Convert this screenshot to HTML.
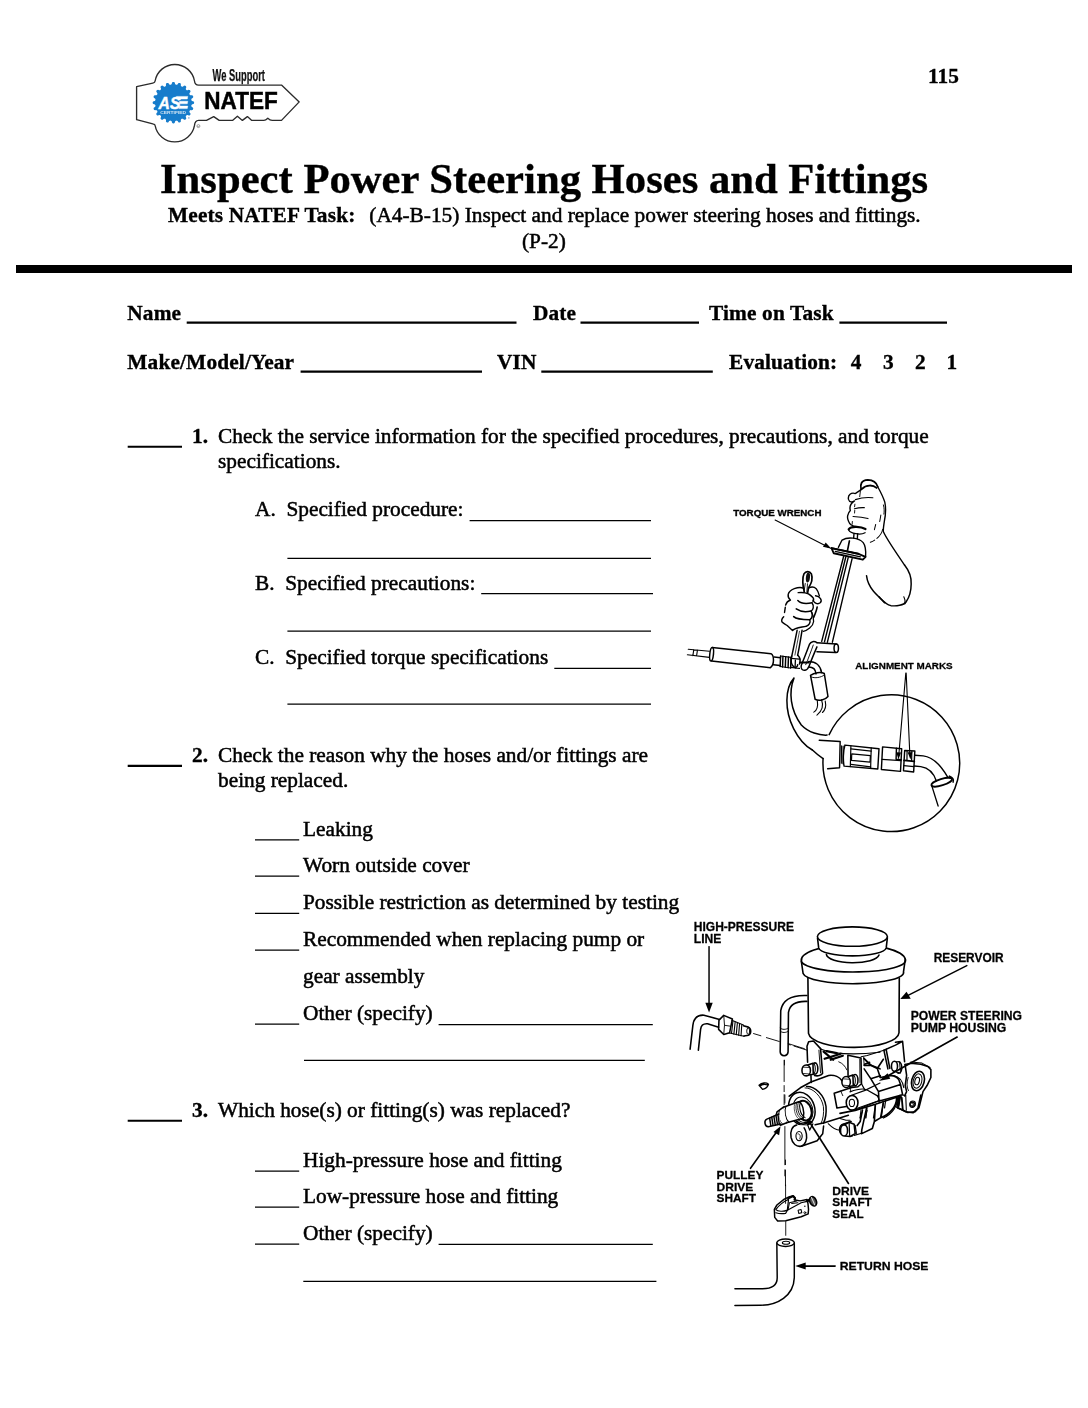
<!DOCTYPE html>
<html><head><meta charset="utf-8">
<style>
html,body{margin:0;padding:0;background:#fff;}
body{width:1088px;height:1408px;position:relative;overflow:hidden;font-family:"Liberation Serif",serif;color:#000;}
.t{position:absolute;white-space:pre;font-size:21.33px;line-height:24px;-webkit-text-stroke:0.5px #000;}
.b{font-weight:bold;-webkit-text-stroke:0.35px #000;letter-spacing:0.15px;}
.t b{-webkit-text-stroke:0.35px #000;letter-spacing:0.15px;}
.u{position:absolute;height:0;border-top:1.4px solid #000;}
.ub{position:absolute;height:0;border-top:2px solid #000;}
svg{position:absolute;left:0;top:0;}
</style></head><body>
<div id="gray" style="position:absolute;left:0;top:0;width:1088px;height:1408px;filter:grayscale(1);">
<!-- header -->
<svg id="logo" width="1088" height="1408" viewBox="0 0 1088 1408">
<path d="M136.6 86.7 L152.8 83.2 Q155 82.7 155.1 81 A20 20 0 0 1 194.5 81 Q194.8 85.1 198.6 85.1 L281.5 85.1 L299.2 101.9 L281.5 120.4 L272.2 120.4 Q270 120.4 267.8 118.2 Q265.6 120.4 263.9 120.4 L251.8 120.4 L247.4 116.6 L242.4 120.4 L237.4 116.3 L232.5 120.4 L219.2 120.4 L213.7 116.6 L206.5 120.4 L198.6 120.3 Q194.9 120.4 194.5 125.4 A20 20 0 0 1 155.1 125.4 Q155 124.4 152.8 123.9 L136.6 119.7 Z" fill="#fff" stroke="#2b2b2b" stroke-width="1.35" stroke-linejoin="round"/>
<!--GEAR-->


<circle cx="198.4" cy="126.1" r="1.5" fill="none" stroke="#777" stroke-width="0.7"/>
<text x="197.6" y="127" font-family="Liberation Sans, sans-serif" font-size="2.4" font-weight="bold" fill="#777">R</text>
<text x="212.6" y="81" font-family="Liberation Sans, sans-serif" font-weight="bold" font-size="16.2" textLength="52.4" lengthAdjust="spacingAndGlyphs" fill="#111" stroke="#111" stroke-width="0.25">We Support</text>
<text x="204.3" y="109.3" font-family="Liberation Sans, sans-serif" font-weight="bold" font-size="23.4" textLength="73.4" lengthAdjust="spacingAndGlyphs" fill="#000" stroke="#000" stroke-width="0.5">NATEF</text>
</svg>


<div class="t b" style="left:928px;top:64px;letter-spacing:0;">115</div>
<div class="t b" id="title" style="letter-spacing:0;left:160px;top:155px;font-size:42.67px;line-height:48px;">Inspect Power Steering Hoses and Fittings</div>
<div class="t b" id="meets" style="left:168px;top:203px;">Meets NATEF Task:</div>
<div class="t" id="meets2" style="left:369.3px;top:203px;">(A4-B-15) Inspect and replace power steering hoses and fittings.</div>
<div class="t" id="p2" style="left:522px;top:229px;">(P-2)</div>
<div style="position:absolute;left:16px;top:265px;width:1056px;height:8px;background:#000;"></div>
<!-- form rows -->
<div class="t b" style="left:127.3px;top:301px;">Name</div>
<div class="t b" style="left:533px;top:301px;">Date</div>
<div class="t b" style="left:709px;top:301px;">Time on Task</div>
<div class="t b" style="left:127.3px;top:350px;">Make/Model/Year</div>
<div class="t b" style="left:497px;top:350px;">VIN</div>
<div class="t b" style="left:729px;top:350px;">Evaluation:</div>
<div class="t b" style="left:850.8px;top:350px;">4</div>
<div class="t b" style="left:882.9px;top:350px;">3</div>
<div class="t b" style="left:914.9px;top:350px;">2</div>
<div class="t b" style="left:946.6px;top:350px;">1</div>

<!-- Q1 -->
<div class="t b" style="left:192px;top:424px;">1.</div>
<div class="t" style="left:218px;top:424px;">Check the service information for the specified procedures, precautions, and torque</div>
<div class="t" style="left:218px;top:449px;">specifications.</div>
<div class="t" style="left:255px;top:497px;">A.  Specified procedure:</div>
<div class="t" style="left:255px;top:571px;">B.  Specified precautions:</div>
<div class="t" style="left:255px;top:645px;">C.  Specified torque specifications</div>
<!-- Q2 -->
<div class="t b" style="left:192px;top:743px;">2.</div>
<div class="t" style="left:218px;top:743px;">Check the reason why the hoses and/or fittings are</div>
<div class="t" style="left:218px;top:768px;">being replaced.</div>
<div class="t" style="left:303px;top:817px;">Leaking</div>
<div class="t" style="left:303px;top:853px;">Worn outside cover</div>
<div class="t" style="left:303px;top:890px;">Possible restriction as determined by testing</div>
<div class="t" style="left:303px;top:927px;">Recommended when replacing pump or</div>
<div class="t" style="left:303px;top:964px;">gear assembly</div>
<div class="t" style="left:303px;top:1001px;">Other (specify)</div>
<!-- Q3 -->
<div class="t b" style="left:192px;top:1098px;">3.</div>
<div class="t" style="left:218px;top:1098px;">Which hose(s) or fitting(s) was replaced?</div>
<div class="t" style="left:303px;top:1148px;">High-pressure hose and fitting</div>
<div class="t" style="left:303px;top:1184px;">Low-pressure hose and fitting</div>
<div class="t" style="left:303px;top:1221px;">Other (specify)</div>
<svg id="lines" width="1088" height="1408" viewBox="0 0 1088 1408">
<g stroke="#000" stroke-width="1.25">
<line x1="469.6" y1="520.5" x2="651" y2="520.5"/>
<line x1="287.4" y1="558.3" x2="651" y2="558.3"/>
<line x1="481.2" y1="593.6" x2="653" y2="593.6"/>
<line x1="287.4" y1="631.1" x2="651" y2="631.1"/>
<line x1="554.3" y1="668.3" x2="651" y2="668.3"/>
<line x1="287.4" y1="704.1" x2="651" y2="704.1"/>
<line x1="255" y1="839.8" x2="299.2" y2="839.8"/>
<line x1="255" y1="876.2" x2="299.2" y2="876.2"/>
<line x1="255" y1="913.3" x2="299.2" y2="913.3"/>
<line x1="255" y1="950.0" x2="299.2" y2="950.0"/>
<line x1="255" y1="1024.2" x2="299.2" y2="1024.2"/>
<line x1="438.6" y1="1024.6" x2="652.8" y2="1024.6"/>
<line x1="304" y1="1060.3" x2="644.8" y2="1060.3"/>
<line x1="255" y1="1171.0" x2="299.2" y2="1171.0"/>
<line x1="255" y1="1207.1" x2="299.2" y2="1207.1"/>
<line x1="255" y1="1244.2" x2="299.2" y2="1244.2"/>
<line x1="438.6" y1="1244.4" x2="652.8" y2="1244.4"/>
<line x1="303.3" y1="1281.3" x2="656.4" y2="1281.3"/>
</g>
<g stroke="#000" stroke-width="2.1">
<line x1="186.7" y1="322.6" x2="516.5" y2="322.6"/>
<line x1="580.5" y1="322.6" x2="699" y2="322.6"/>
<line x1="839.4" y1="322.6" x2="947" y2="322.6"/>
<line x1="300.6" y1="371.6" x2="482" y2="371.6"/>
<line x1="541.3" y1="371.6" x2="712.8" y2="371.6"/>
<line x1="127.7" y1="446.7" x2="182" y2="446.7"/>
<line x1="127.7" y1="765.9" x2="182" y2="765.9"/>
<line x1="127.7" y1="1120.8" x2="182" y2="1120.8"/>
</g>
</svg>
<svg id="art" width="1088" height="1408" viewBox="0 0 1088 1408" fill="none" stroke="#000" stroke-linecap="round" stroke-linejoin="round">
<!-- diagram1 tile A: origin 720,470 zoom 5.44 -->
<g transform="translate(720,470) scale(0.18382)" stroke-width="8">
<path d="M1004,517 C1030,550 1042,585 1040,620 C1040,660 1028,695 1012,718 C1000,735 960,742 930,738 C900,730 880,705 865,690"/>
<path d="M797,575 C800,600 810,630 835,660 C850,678 870,695 895,722"/>
<path d="M1000,690 C1008,705 1010,715 1006,728" stroke-width="6"/>
<!-- arrow -->
<path d="M300,272 L585,418" stroke-width="6"/>
<path d="M606,428 L560,418 L575,395 Z" fill="#000" stroke="none"/>
<text x="72" y="250" font-family="Liberation Sans, sans-serif" font-weight="bold" font-size="53" textLength="480" lengthAdjust="spacingAndGlyphs" fill="#000" stroke="#000" stroke-width="2">TORQUE WRENCH</text>
</g>

<!-- diagram1 tile A2 (upper hand + wrench head): origin 820,470 zoom 10.88 -->
<g transform="translate(820,470) scale(0.091912)" stroke-width="15">
<!-- handle cap -->
<path d="M447,212 C435,150 450,112 520,108 C580,110 615,140 628,182" stroke-width="20"/>
<path d="M458,205 C500,160 575,158 615,195" stroke-width="20"/>
<!-- index knuckle + fingers -->
<path d="M447,212 C425,232 400,245 385,256 C340,240 300,270 310,320 C320,352 350,356 375,336 C340,360 318,400 330,440 C300,470 290,520 310,556 C320,590 360,612 400,616"/>
<path d="M385,322 C450,300 520,296 575,302 M375,422 C410,412 450,408 482,410 M360,506 C420,508 480,516 522,528" stroke-width="13"/>
<path d="M440,225 L432,290 M380,372 L376,400 M378,440 L376,468 M352,560 L350,590" stroke-width="10"/>
<!-- wrist right side and arm -->
<path d="M628,182 C660,240 690,300 705,350 C720,420 712,500 700,560 C692,610 686,650 690,672 C720,740 800,860 920,1034"/>
<path d="M690,380 C700,420 700,450 695,480" stroke-width="10"/>
<path d="M662,490 L650,560 M606,592 L592,650" stroke-width="11"/>
<path d="M682,645 C672,700 620,760 548,786" stroke-width="11" stroke-dasharray="120 30"/>
<!-- collar -->
<path d="M312,645 C340,602 450,618 495,642" stroke-width="24"/>
<path d="M312,652 C332,692 440,712 490,682" stroke-width="14"/>
<path d="M370,692 L366,740 M410,692 L406,745"/>
<!-- dome -->
<path d="M200,842 L240,762 C300,726 420,735 470,790 C500,830 500,880 496,940"/>
<path d="M320,772 L300,872" stroke-width="18"/>
<!-- plate -->
<path d="M125,850 L150,906 L466,976 L496,945 L418,912 Z" stroke-width="20" fill="#fff"/>
<path d="M125,850 L418,912" stroke-width="22"/>
<path d="M165,885 L440,945" stroke-width="12"/>
</g>

<!-- diagram1 tile B: origin 680,600 zoom 5.44 -->
<g transform="translate(680,600) scale(0.18382)" stroke-width="8.2">
<!-- small wrench handle + jaw -->
<path d="M637,165 C628,210 618,260 608,305 M664,165 C656,215 648,265 640,300" stroke-width="8"/>
<path d="M650,170 L625,300" stroke-width="4"/>
<path d="M608,305 C602,330 606,355 622,365 C632,370 640,362 640,352 M640,300 C652,310 656,330 650,348" stroke-width="8"/>
<!-- torque wrench beams -->
<!-- T head cylinder -->
<path d="M745,232 L850,240 M745,282 L846,286"/>
<ellipse cx="850" cy="263" rx="12" ry="23"/>
<path d="M745,232 C730,222 712,225 705,240 C690,280 675,320 660,355 C655,372 665,385 680,382 C692,380 698,370 702,360 C715,325 730,290 745,255" stroke-width="8"/>
<path d="M725,245 C712,280 698,320 684,352" stroke-width="5"/>
<!-- left hose -->
<path d="M45,268 L160,279 M40,298 L160,312 M75,270 L70,303 M95,272 L90,305" stroke-width="6"/>
<path d="M175,258 L495,292 C512,300 515,350 492,368 L172,332"/>
<ellipse cx="172" cy="295" rx="10" ry="37" transform="rotate(6 172 295)"/>
<path d="M512,310 L547,314 M508,352 L545,356"/>
<path d="M547,305 L545,362 M560,306 L558,364 M575,308 L573,366 M590,310 L588,368 M604,312 L602,370" stroke-width="8"/>
<path d="M547,305 L604,312 M545,362 L602,370" stroke-width="6"/>
<path d="M604,318 L650,322 M602,366 L650,372 M628,320 L626,370" stroke-width="7"/>
<path d="M655,340 L700,340" stroke-width="10"/>
<!-- elbow pipe + sleeve -->
<path d="M700,335 C740,335 765,360 770,395 M700,365 C725,365 738,380 740,402"/>
<path d="M710,410 C730,395 765,390 785,400 L805,525 C790,545 755,550 735,540 Z"/>
<path d="M712,418 C735,428 765,422 786,408" stroke-width="5"/>
<path d="M747,547 C752,580 745,600 728,610 M770,543 C782,575 772,605 745,626 M790,550 C797,580 788,600 775,612" stroke-width="6"/>
<!-- swoosh -->
<path d="M620,425 C570,480 568,600 618,700 C648,760 690,800 720,816 M620,425 C590,500 600,600 660,680 C700,722 760,737 800,735"/>
</g>

<!-- diagram1 tile C: origin 790,640 zoom 5.44 -->
<g transform="translate(790,640) scale(0.18382)" stroke-width="8">
<path d="M213,515 A372,372 0 1 1 180,645"/>
<path d="M122,598 C140,615 160,632 180,645"/>
<!-- arrows -->
<path d="M630,180 L592,625 M632,180 L652,625" stroke-width="6"/>
<path d="M590,650 L578,610 L604,612 Z M655,650 L640,610 L666,610 Z" fill="#000" stroke="none"/>
<text x="355" y="158" font-family="Liberation Sans, sans-serif" font-weight="bold" font-size="53" textLength="530" lengthAdjust="spacingAndGlyphs" fill="#000" stroke="#000" stroke-width="1.5">ALIGNMENT MARKS</text>
</g>

<!-- diagram1 tile C2 (fitting in circle): origin 830,720 zoom 8.369 -->
<g transform="translate(830,720) scale(0.11949)" stroke-width="12">
<path d="M-90,170 L85,180 L80,400 L-20,408"/>
<path d="M97,215 L95,362 M110,218 L108,366" stroke-width="9"/>
<path d="M125,210 L410,240 L400,410 L118,386 C108,340 110,260 125,210 Z"/>
<path d="M175,216 L170,390 M345,234 L340,404" stroke-width="10"/>
<path d="M175,242 L345,260 M182,283 L338,298 L335,352 L180,338 Z M175,372 L340,392" stroke-width="10"/>
<path d="M440,225 L600,240 L590,430 L430,415 Z"/>
<path d="M436,330 L594,340" stroke-width="11"/>
<path d="M556,236 L553,328 L596,332" stroke-width="12"/>
<path d="M625,255 L710,260 L700,435 L615,425 Z"/>
<path d="M620,338 L705,346" stroke-width="16"/>
<path d="M618,382 L702,390" stroke-width="10"/>
<path d="M645,258 L644,335 M685,262 L683,340" stroke-width="10"/>
<path d="M710,295 L780,300 C870,310 940,400 985,478 M705,385 L760,390 C830,400 870,450 890,510"/>
<ellipse cx="935" cy="520" rx="90" ry="27" transform="rotate(-17 935 520)" stroke-width="15"/>
<path d="M1000,470 C1025,480 1040,500 1030,520" stroke-width="13"/>
<path d="M850,545 L905,720" stroke-width="11"/>
</g>

<!-- diagram1 tile H (lower fist): origin 775,570 zoom 15.54 -->
<g transform="translate(775,570) scale(0.06435)" stroke-width="22">
<!-- wrench ring -->
<path d="M455,340 C430,250 420,120 450,60 C480,10 540,15 565,60 C590,130 560,220 520,280 L508,352" stroke-width="26"/>
<ellipse cx="512" cy="115" rx="32" ry="78" fill="#111" stroke="none" transform="rotate(6 512 115)"/>
<path d="M470,210 L452,335 M505,215 L495,345" stroke-width="14"/>
<!-- fist outline -->
<path d="M440,282 C400,262 340,275 300,290 C260,305 215,335 205,380 C200,410 210,445 240,466 C200,480 175,510 165,545"/>
<path d="M160,580 L148,660 M135,725 C110,750 95,780 110,810 C140,840 170,845 185,860 L272,940 C290,915 320,905 420,885 L482,876" />
<!-- right side knuckles -->
<path d="M520,280 C560,262 610,262 640,290 C665,320 680,365 690,402"/>
<path d="M630,400 C700,410 742,470 702,510 C662,542 612,512 590,470"/>
<path d="M360,352 C420,345 480,352 520,372 C560,400 595,430 600,448 C602,465 598,478 590,488"/>
<path d="M580,520 C612,560 592,620 560,640 C590,690 582,750 540,772 C560,820 522,860 482,876"/>
<!-- creases -->
<path d="M355,475 C400,522 500,527 577,510 M330,605 C400,652 500,652 560,636 M290,725 C340,772 450,772 545,773" stroke-width="24"/>
<!-- heel/thumb lines -->
<path d="M655,575 C650,620 625,680 602,735" stroke-width="26"/>
<path d="M570,652 C590,690 600,750 600,800 C592,880 500,940 440,952" stroke-width="20"/>
<!-- wrench handle below fist -->
</g>

<!-- torque wrench beams, page coords -->
<g stroke-width="1.4">
<path d="M843.6,556.5 L821.7,641.4 M845.8,557 L824.5,641.8 M848.2,557.6 L827.4,642.2 M852.1,558.6 L832.4,642.2"/>
</g>

<!-- diagram2 reservoir in page coords -->
<g stroke-width="1.6">
<!-- body -->
<path d="M807.9,977 L808.5,1033.3 A45.3,15 0 0 0 899,1032.7 L899.3,978" fill="#fff"/>
<!-- lid -->
<path d="M801.4,961.6 L803.1,973.5 A50.2,11 0 0 0 903.5,971.8 L905.3,959.2 A52,15.8 0 0 0 801.4,961.6 Z" fill="#fff"/>
<path d="M801.4,961.6 A52,11.5 0 0 0 905.3,959.2"/>
<!-- neck -->
<path d="M826.4,954.4 A26.4,8.8 0 0 0 879,955" fill="#fff"/>
<!-- cap -->
<path d="M817.5,938 L818.7,947.9 A33.8,8.4 0 0 0 886.2,947.9 L887.4,937.7 Z" fill="#fff"/>
<ellipse cx="852.4" cy="936.6" rx="35" ry="9.7" fill="#fff"/>
</g>
<!-- diagram2 tile D: origin 680,915 zoom 5.44 -->
<g transform="translate(680,915) scale(0.18382)" stroke-width="8.5">
<text x="75" y="85" font-family="Liberation Sans, sans-serif" font-weight="bold" font-size="65.6" textLength="545" lengthAdjust="spacingAndGlyphs" fill="#000" stroke="#000" stroke-width="1.5">HIGH-PRESSURE</text>
<text x="75" y="155" font-family="Liberation Sans, sans-serif" font-weight="bold" font-size="65.6" textLength="150" lengthAdjust="spacingAndGlyphs" fill="#000" stroke="#000" stroke-width="1.5">LINE</text>
<path d="M158,172 L158,490" stroke-width="8"/>
<path d="M158,530 L138,478 L178,478 Z" fill="#000" stroke="none"/>
<!-- HP tube -->
<path d="M55,730 L70,600 C75,560 95,543 130,545 L215,568 M100,735 L112,622 C115,598 125,590 150,592 L210,610"/>
<!-- hex nut -->
<path d="M212,572 L238,546 L285,566 L270,640 L238,650 L210,622 Z"/>
<path d="M238,546 L242,600 L238,650 M242,600 L275,605" stroke-width="5"/>
<!-- threads -->
<path d="M282,572 L345,598 M270,642 L348,660" stroke-width="6"/>
<path d="M288,578 L280,645 M300,583 L293,648 M312,588 L306,651 M324,592 L319,654 M336,597 L332,657" stroke-width="6"/>
<path d="M345,603 L372,610 C390,618 388,648 372,654 L348,658" />
<ellipse cx="371" cy="632" rx="8" ry="17" stroke-width="5"/>
<!-- dash-dot -->
<path d="M400,645 L440,657 M470,667 L540,688 M570,697 L600,707 M620,713 L690,735" stroke-width="5"/>
<!-- J tube -->
<path d="M690,438 C620,435 560,450 548,520 L545,745 C548,772 585,772 588,745 L590,530 C598,480 640,468 690,470" fill="#fff"/>
<path d="M545,615 C555,625 578,625 588,615 M545,632 C555,642 578,642 588,632" stroke-width="5"/>
<path d="M568,790 L568,816" stroke-width="5"/>
</g>
<!-- diagram2 tile E: origin 840,915 zoom 5.44 -->
<g transform="translate(840,915) scale(0.18382)" stroke-width="8.5">
<text x="510" y="255" font-family="Liberation Sans, sans-serif" font-weight="bold" font-size="65.6" textLength="380" lengthAdjust="spacingAndGlyphs" fill="#000" stroke="#000" stroke-width="1.5">RESERVOIR</text>
<path d="M690,275 L365,440" stroke-width="8"/>
<path d="M328,457 L362,418 L385,455 Z" fill="#000" stroke="none"/>
<text x="385" y="572" font-family="Liberation Sans, sans-serif" font-weight="bold" font-size="65.6" textLength="605" lengthAdjust="spacingAndGlyphs" fill="#000" stroke="#000" stroke-width="1.5">POWER STEERING</text>
<text x="385" y="637" font-family="Liberation Sans, sans-serif" font-weight="bold" font-size="65.6" textLength="520" lengthAdjust="spacingAndGlyphs" fill="#000" stroke="#000" stroke-width="1.5">PUMP HOUSING</text>
</g>

<!-- diagram2 tile F1: origin 770,1035 zoom 9.891 -->
<g transform="translate(770,1035) scale(0.10110)" stroke-width="15.5">
<!-- J-tube bottom handled in tile D -->
<path d="M140,250 L140,460 M140,500 L140,560 M140,590 L140,690" stroke-width="9"/>
<path d="M180,85 L340,135" stroke-width="9"/>
<!-- left upright -->
<path d="M500,135 L430,60 L382,66 L366,112 L372,270 M405,400 L408,470"/>
<path d="M500,135 L520,380 C510,400 470,410 440,400"/>
<path d="M484,150 L500,375" stroke-width="9"/>
<!-- saddle arc under reservoir -->
<path d="M505,140 C620,185 820,200 1088,170" stroke-width="11"/>
<!-- X bracing -->
<path d="M530,165 L625,245 M540,235 L700,185 M600,245 L720,205 M560,160 L660,180" stroke-width="22"/>
<path d="M680,265 C720,280 745,310 760,345" stroke-width="9"/>
<!-- middle upright -->
<path d="M770,200 L772,400 M770,200 L900,228 L905,482 L870,512 L790,522"/>
<path d="M888,238 L890,470" stroke-width="9"/>
<path d="M930,235 L1000,300 L1088,335 M935,290 L985,270" stroke-width="16"/>
<!-- bolt 1 -->
<ellipse cx="445" cy="332" rx="28" ry="56" fill="#fff"/>
<ellipse cx="422" cy="335" rx="26" ry="52" fill="#fff" stroke-width="10"/>
<path d="M360,302 L425,280 L428,388 L372,398 Z" fill="#fff"/>
<ellipse cx="358" cy="350" rx="42" ry="54" fill="#fff"/>
<path d="M330,318 L395,322 M325,380 L392,386" stroke-width="8"/>
<!-- bolt 2 -->
<ellipse cx="842" cy="447" rx="28" ry="56" fill="#fff"/>
<ellipse cx="818" cy="450" rx="26" ry="52" fill="#fff" stroke-width="10"/>
<path d="M755,417 L820,396 L824,502 L767,512 Z" fill="#fff"/>
<ellipse cx="753" cy="465" rx="42" ry="54" fill="#fff"/>
<path d="M725,434 L790,438 M720,496 L787,502" stroke-width="8"/>
<!-- nose cylinder top edge -->
<path d="M190,605 L300,522 L405,465 L580,400 C640,393 690,420 712,452"/>
<!-- boss block -->
<path d="M635,577 L800,522 M635,577 L662,722 L770,705"/>
<path d="M700,555 L720,600 M790,522 L800,560" stroke-width="9"/>
<ellipse cx="812" cy="670" rx="58" ry="72" fill="#fff"/>
<ellipse cx="810" cy="672" rx="26" ry="36" stroke-width="10"/>
<path d="M905,482 L940,548 L1088,475 M850,730 L1088,645 M800,598 L940,548" stroke-width="12"/>
<path d="M1060,600 C1075,620 1082,640 1080,670" stroke-width="10"/>
<path d="M900,740 L890,821 M960,720 L950,821" stroke-width="10"/>
</g>

<!-- diagram2 tile F2: origin 850,1035 zoom 9.891 -->
<g transform="translate(850,1035) scale(0.10110)" stroke-width="15.5">
<!-- right upright -->
<path d="M450,72 L520,62 L540,265 M335,150 L375,335 M357,140 L394,330 M335,150 L450,100 L520,62" />
<path d="M110,215 L170,202 L335,150" stroke-width="11"/>
<path d="M135,220 L140,300" stroke-width="9"/>
<!-- V brace -->
<path d="M140,232 L205,300 L270,332 L330,240 M270,332 L300,420 M140,300 L205,300" stroke-width="16"/>
<!-- housing block -->
<path d="M140,335 L205,432 L300,402 M205,432 L282,560 L286,645 M282,560 L500,490 L520,590 L290,652 M500,490 L482,440 C460,410 430,400 400,402 L300,420"/>
<path d="M430,400 C485,410 522,460 532,520 M520,590 L542,602" stroke-width="11"/>
<!-- lower housing -->
<path d="M0,562 C60,540 120,522 165,542 L272,602 M0,752 L80,732 L286,652 M330,660 L312,800 M250,700 L232,821 M470,620 C470,700 420,780 330,821 M352,650 L342,720" stroke-width="12"/>
<path d="M120,760 L100,821 M170,745 L150,821" stroke-width="10"/>
<!-- bolt 3 -->
<ellipse cx="482" cy="322" rx="30" ry="56" fill="#fff"/>
<path d="M440,262 L490,268 L500,375 L445,360 Z" fill="#fff" stroke-width="10"/>
<ellipse cx="440" cy="310" rx="30" ry="50" fill="#fff"/>
<!-- rear flange -->
<path d="M545,292 L600,280 L700,290 L770,312 L800,342 L800,420 L762,500 L722,560 L702,640 L682,720 L642,760 L572,766 L522,742 L472,722" fill="none"/>
<path d="M600,268 L712,278 L792,322" stroke-width="10"/>
<path d="M545,292 L560,400 L546,500 L560,560 L540,602" />
<path d="M575,420 C560,470 560,520 578,550" stroke-width="9"/>
<ellipse cx="672" cy="455" rx="62" ry="98" transform="rotate(14 672 455)"/>
<ellipse cx="668" cy="455" rx="42" ry="72" transform="rotate(14 668 455)" stroke-width="10"/>
<ellipse cx="664" cy="455" rx="22" ry="38" transform="rotate(14 664 455)" stroke-width="11"/>
<circle cx="616" cy="690" r="26" stroke-width="10"/>
<path d="M610,675 C625,672 632,690 622,702" stroke-width="8"/>
<path d="M492,600 L476,716 M512,622 L522,736 M492,600 L512,622" stroke-width="18"/>
<!-- arrow PSPH -->
<path d="M1060,20 L345,420" stroke-width="16"/>
<path d="M285,455 L372,378 L398,432 Z" fill="#000" stroke="none"/>
</g>

<!-- diagram2 tile F3: origin 750,1095 zoom 9.891 -->
<g transform="translate(750,1095) scale(0.10110)" stroke-width="16">
<!-- vertical dash-dot -->
<path d="M345,0 L345,80 M345,312 L345,690 M345,740 L345,800" stroke-width="9"/>
<!-- bolt 4 (left part) -->
<ellipse cx="922" cy="342" rx="36" ry="52" fill="#fff"/>
<path d="M922,290 L1000,262 M932,394 L1010,405" />
</g>

<!-- diagram2 tile F4: origin 840,1095 zoom 9.891 -->
<g transform="translate(840,1095) scale(0.10110)" stroke-width="16">
<path d="M0,182 L150,152 L350,92 L590,12 M222,150 L200,262 L170,302 M262,132 L216,342 L212,382 M350,92 L340,262 L320,332 L215,382 M432,62 L402,222 M560,32 C560,120 480,200 400,226 L340,262"/>
<path d="M0,232 L60,250 L100,250" stroke-width="11"/>
<!-- bolt 4 hex -->
<path d="M40,296 L90,270 L140,290 L150,382 L100,410 L50,406" fill="#fff"/>
<path d="M90,270 L96,410 M150,300 L162,380 M140,400 L215,378" stroke-width="12"/>
<ellipse cx="40" cy="350" rx="35" ry="55" fill="#fff"/>
<!-- flange bottom -->
<path d="M582,20 L562,122 L650,166 L722,176 L770,132 L800,0"/>
<path d="M602,0 L582,112 M650,0 L656,150" stroke-width="11"/>
<circle cx="720" cy="86" r="26" stroke-width="11"/>
<path d="M712,70 C730,68 738,88 726,102" stroke-width="9"/>
</g>

<!-- diagram2 tile G: origin 700,1160 zoom 5.44 -->
<g transform="translate(700,1160) scale(0.18382)" stroke-width="8">
<g font-family="Liberation Sans, sans-serif" font-weight="bold" font-size="63" fill="#000" stroke="#000" stroke-width="1.5">
<text x="90" y="103" textLength="255" lengthAdjust="spacingAndGlyphs">PULLEY</text>
<text x="90" y="167" textLength="200" lengthAdjust="spacingAndGlyphs">DRIVE</text>
<text x="90" y="230" textLength="215" lengthAdjust="spacingAndGlyphs">SHAFT</text>
<text x="720" y="188" textLength="200" lengthAdjust="spacingAndGlyphs">DRIVE</text>
<text x="720" y="252" textLength="215" lengthAdjust="spacingAndGlyphs">SHAFT</text>
<text x="720" y="315" textLength="170" lengthAdjust="spacingAndGlyphs">SEAL</text>
<text x="760" y="598" textLength="483" lengthAdjust="spacingAndGlyphs">RETURN HOSE</text>
</g>
<path d="M465,0 L465,25 M465,55 L465,140" stroke-width="5"/>
<!-- return hose -->
<path d="M418,452 L420,640 C420,690 380,700 340,700 L190,700 M513,452 L513,640 C510,740 420,790 330,790 L190,792"/>
<ellipse cx="465.5" cy="450" rx="47.5" ry="20" fill="#fff"/>
<ellipse cx="468" cy="450" rx="20" ry="8" stroke-width="6"/>
<path d="M735,577 L560,577" stroke-width="9"/>
<path d="M518,577 L575,558 L575,596 Z" fill="#000" stroke="none"/>
</g>

<!-- diagram2 tile K (clamp): origin 760,1185 zoom 13.6 -->
<g transform="translate(760,1185) scale(0.073529)" stroke-width="20">
<path d="M195,330 L230,272 L330,192 L400,160 L450,150 L475,176 L480,205 L545,216 L640,196 L652,250 L660,330 L655,392 L560,432 L350,486 L240,490 L200,440 Z" fill="#fff"/>
<path d="M385,182 L450,150 L475,176 L470,200" stroke-width="30"/>
<path d="M215,335 C250,282 330,216 388,196 L372,342 C320,366 240,360 215,335 Z" stroke-width="16"/>
<path d="M215,378 C260,392 310,392 350,385 L372,342 L560,242 L640,222" stroke-width="16"/>
<path d="M400,242 L500,216 M400,242 L382,335 M430,252 L515,240" stroke-width="14"/>
<rect x="522" y="338" width="42" height="44" stroke-width="14" transform="rotate(-12 543 360)"/>
<circle cx="610" cy="376" r="13" stroke-width="12"/>
<circle cx="610" cy="290" r="10" fill="#000" stroke="none"/>
<path d="M640,218 L672,204" stroke-width="34"/>
<ellipse cx="722" cy="222" rx="44" ry="66" transform="rotate(-24 722 222)" fill="#555" stroke-width="22"/>
<path d="M700,170 L745,270" stroke="#ddd" stroke-width="14"/>
<!-- vertical line -->
<path d="M348,0 L348,250 M350,497 L350,685" stroke-width="12"/>
</g>

<!-- diagram2 tile N (nose): origin 760,1075 zoom 10.88 -->
<g transform="translate(760,1075) scale(0.091912)" stroke-width="16.5">
<!-- ring 2 (back of nose flange) double -->
<path d="M507,124 C600,120 700,220 718,340 C725,420 712,480 690,527"/>
<path d="M490,140 C580,138 672,235 690,345 C697,420 686,480 664,528" stroke-width="10"/>
<!-- outer front ring -->
<ellipse cx="455" cy="370" rx="140" ry="185" transform="rotate(-17 455 370)" fill="#fff"/>
<ellipse cx="468" cy="378" rx="105" ry="142" transform="rotate(-17 468 378)" stroke-width="11"/>
<ellipse cx="482" cy="388" rx="78" ry="110" transform="rotate(-17 482 388)" stroke-width="24"/>
<!-- shaft big section (white fill to occlude rings) -->
<path d="M255,350 L420,292 C460,300 490,400 470,470 L290,520 C250,490 235,400 255,350 Z" fill="#fff"/>
<path d="M420,292 C398,330 408,440 470,470" stroke-width="10"/>
<path d="M400,300 C380,340 390,440 448,476" stroke-width="9"/>
<path d="M440,292 C422,335 432,430 490,464" stroke-width="12"/>
<path d="M380,306 C362,345 372,445 425,482" stroke-width="7"/>
<path d="M282,342 C262,392 275,480 315,512" stroke-width="11"/>
<!-- collar cone -->
<path d="M255,350 L185,402 C165,440 180,520 222,546 L290,520" fill="#fff"/>
<path d="M212,388 C192,430 206,505 246,535" stroke-width="10"/>
<!-- threaded end -->
<path d="M205,425 L75,480 C40,495 50,560 90,562 L225,532" fill="#fff"/>
<path d="M105,470 L118,552 M128,460 L142,548 M151,450 L166,543 M174,441 L190,538 M195,432 L210,534" stroke-width="16"/>
<!-- dark seal lip under shaft -->
<path d="M400,505 C440,545 500,545 532,500" stroke-width="20"/>
<!-- lower ear -->
<path d="M400,545 C350,555 325,610 338,680 C352,745 395,785 450,775 L622,715 L682,640 L692,555" fill="#fff"/>
<path d="M450,775 C495,760 515,700 505,640 C500,610 490,590 480,575"/>
<ellipse cx="425" cy="665" rx="34" ry="50" stroke-width="12"/>
<path d="M412,640 C436,636 446,668 432,695" stroke-width="9"/>
<path d="M510,520 L540,600 L575,532" stroke-width="13"/>
<!-- nose bottom edge -->
<path d="M600,542 L700,520 L962,438"/>
<path d="M742,530 C790,580 830,602 872,602" stroke-width="11"/>
<!-- woodruff key -->
<path d="M-10,112 C20,80 70,80 92,100 C86,130 60,150 28,156 Z M0,118 C25,100 55,98 80,108" stroke-width="15"/>
</g>

<g transform="translate(750,1095) scale(0.10110)" stroke-width="14">
<!-- arrow pulley drive shaft -->
<path d="M5,725 L268,358" stroke-width="16"/>
<path d="M302,308 L232,366 L288,398 Z" fill="#000" stroke="none"/>
<!-- arrow drive shaft seal -->
<path d="M974,875 L585,262" stroke-width="16"/>
<path d="M568,236 L575,300 L625,270 Z" fill="#000" stroke="none"/>
</g>

</svg>
</div>
<svg id="logoc" width="1088" height="1408" viewBox="0 0 1088 1408" style="z-index:5">
<path d="M194.15 102.70 L194.14 102.52 L194.11 102.34 L194.05 102.16 L193.98 101.98 L193.87 101.81 L193.74 101.63 L193.57 101.47 L193.34 101.31 L192.79 101.17 L192.24 101.05 L192.00 100.91 L191.83 100.76 L191.69 100.62 L191.58 100.47 L191.48 100.32 L191.41 100.17 L191.36 100.02 L191.33 99.86 L191.31 99.70 L191.31 99.54 L191.33 99.38 L191.38 99.21 L191.44 99.03 L191.53 98.85 L191.65 98.65 L191.82 98.45 L192.31 98.16 L192.80 97.86 L192.97 97.64 L193.08 97.43 L193.15 97.22 L193.19 97.03 L193.21 96.83 L193.21 96.64 L193.18 96.46 L193.13 96.29 L193.07 96.12 L192.98 95.96 L192.87 95.80 L192.75 95.66 L192.59 95.52 L192.42 95.40 L192.20 95.29 L191.94 95.21 L191.37 95.26 L190.81 95.31 L190.54 95.25 L190.33 95.16 L190.15 95.07 L190.00 94.96 L189.86 94.85 L189.75 94.73 L189.65 94.60 L189.57 94.46 L189.51 94.31 L189.46 94.16 L189.43 94.00 L189.42 93.82 L189.42 93.64 L189.45 93.43 L189.50 93.21 L189.61 92.96 L189.98 92.54 L190.35 92.11 L190.45 91.84 L190.48 91.61 L190.49 91.39 L190.47 91.19 L190.43 91.00 L190.36 90.82 L190.28 90.66 L190.19 90.50 L190.07 90.36 L189.94 90.24 L189.79 90.12 L189.62 90.02 L189.44 89.94 L189.23 89.88 L188.99 89.84 L188.71 89.85 L188.19 90.07 L187.67 90.30 L187.40 90.32 L187.17 90.30 L186.97 90.26 L186.79 90.21 L186.63 90.14 L186.48 90.06 L186.35 89.97 L186.23 89.87 L186.13 89.75 L186.04 89.62 L185.96 89.47 L185.89 89.31 L185.84 89.13 L185.80 88.93 L185.78 88.70 L185.80 88.43 L186.03 87.91 L186.25 87.39 L186.26 87.11 L186.22 86.87 L186.16 86.66 L186.08 86.48 L185.98 86.31 L185.86 86.16 L185.74 86.03 L185.60 85.91 L185.44 85.82 L185.28 85.74 L185.10 85.67 L184.91 85.63 L184.71 85.61 L184.49 85.62 L184.26 85.65 L183.99 85.75 L183.56 86.12 L183.14 86.49 L182.89 86.60 L182.67 86.65 L182.46 86.68 L182.28 86.68 L182.10 86.67 L181.94 86.64 L181.79 86.59 L181.64 86.53 L181.50 86.45 L181.37 86.35 L181.25 86.24 L181.14 86.10 L181.03 85.95 L180.94 85.77 L180.85 85.56 L180.79 85.29 L180.84 84.73 L180.89 84.16 L180.81 83.90 L180.70 83.68 L180.58 83.51 L180.44 83.35 L180.30 83.23 L180.14 83.12 L179.98 83.03 L179.81 82.97 L179.64 82.92 L179.46 82.89 L179.27 82.89 L179.07 82.91 L178.88 82.95 L178.67 83.02 L178.46 83.13 L178.24 83.30 L177.94 83.79 L177.65 84.28 L177.45 84.45 L177.25 84.57 L177.07 84.66 L176.89 84.72 L176.72 84.77 L176.56 84.79 L176.40 84.79 L176.24 84.77 L176.08 84.74 L175.93 84.69 L175.78 84.62 L175.63 84.52 L175.48 84.41 L175.34 84.27 L175.19 84.10 L175.05 83.86 L174.93 83.31 L174.79 82.76 L174.63 82.53 L174.47 82.36 L174.29 82.23 L174.12 82.12 L173.94 82.05 L173.76 81.99 L173.58 81.96 L173.40 81.95 L173.22 81.96 L173.04 81.99 L172.86 82.05 L172.68 82.12 L172.51 82.23 L172.33 82.36 L172.17 82.53 L172.01 82.76 L171.87 83.31 L171.75 83.86 L171.61 84.10 L171.46 84.27 L171.32 84.41 L171.17 84.52 L171.02 84.62 L170.87 84.69 L170.72 84.74 L170.56 84.77 L170.40 84.79 L170.24 84.79 L170.08 84.77 L169.91 84.72 L169.73 84.66 L169.55 84.57 L169.35 84.45 L169.15 84.28 L168.86 83.79 L168.56 83.30 L168.34 83.13 L168.13 83.02 L167.92 82.95 L167.73 82.91 L167.53 82.89 L167.34 82.89 L167.16 82.92 L166.99 82.97 L166.82 83.03 L166.66 83.12 L166.50 83.23 L166.36 83.35 L166.22 83.51 L166.10 83.68 L165.99 83.90 L165.91 84.16 L165.96 84.73 L166.01 85.29 L165.95 85.56 L165.86 85.77 L165.77 85.95 L165.66 86.10 L165.55 86.24 L165.43 86.35 L165.30 86.45 L165.16 86.53 L165.01 86.59 L164.86 86.64 L164.70 86.67 L164.52 86.68 L164.34 86.68 L164.13 86.65 L163.91 86.60 L163.66 86.49 L163.24 86.12 L162.81 85.75 L162.54 85.65 L162.31 85.62 L162.09 85.61 L161.89 85.63 L161.70 85.67 L161.52 85.74 L161.36 85.82 L161.20 85.91 L161.06 86.03 L160.94 86.16 L160.82 86.31 L160.72 86.48 L160.64 86.66 L160.58 86.87 L160.54 87.11 L160.55 87.39 L160.77 87.91 L161.00 88.43 L161.02 88.70 L161.00 88.93 L160.96 89.13 L160.91 89.31 L160.84 89.47 L160.76 89.62 L160.67 89.75 L160.57 89.87 L160.45 89.97 L160.32 90.06 L160.17 90.14 L160.01 90.21 L159.83 90.26 L159.63 90.30 L159.40 90.32 L159.13 90.30 L158.61 90.07 L158.09 89.85 L157.81 89.84 L157.57 89.88 L157.36 89.94 L157.18 90.02 L157.01 90.12 L156.86 90.24 L156.73 90.36 L156.61 90.50 L156.52 90.66 L156.44 90.82 L156.37 91.00 L156.33 91.19 L156.31 91.39 L156.32 91.61 L156.35 91.84 L156.45 92.11 L156.82 92.54 L157.19 92.96 L157.30 93.21 L157.35 93.43 L157.38 93.64 L157.38 93.82 L157.37 94.00 L157.34 94.16 L157.29 94.31 L157.23 94.46 L157.15 94.60 L157.05 94.73 L156.94 94.85 L156.80 94.96 L156.65 95.07 L156.47 95.16 L156.26 95.25 L155.99 95.31 L155.43 95.26 L154.86 95.21 L154.60 95.29 L154.38 95.40 L154.21 95.52 L154.05 95.66 L153.93 95.80 L153.82 95.96 L153.73 96.12 L153.67 96.29 L153.62 96.46 L153.59 96.64 L153.59 96.83 L153.61 97.03 L153.65 97.22 L153.72 97.43 L153.83 97.64 L154.00 97.86 L154.49 98.16 L154.98 98.45 L155.15 98.65 L155.27 98.85 L155.36 99.03 L155.42 99.21 L155.47 99.38 L155.49 99.54 L155.49 99.70 L155.47 99.86 L155.44 100.02 L155.39 100.17 L155.32 100.32 L155.22 100.47 L155.11 100.62 L154.97 100.76 L154.80 100.91 L154.56 101.05 L154.01 101.17 L153.46 101.31 L153.23 101.47 L153.06 101.63 L152.93 101.81 L152.82 101.98 L152.75 102.16 L152.69 102.34 L152.66 102.52 L152.65 102.70 L152.66 102.88 L152.69 103.06 L152.75 103.24 L152.82 103.42 L152.93 103.59 L153.06 103.77 L153.23 103.93 L153.46 104.09 L154.01 104.23 L154.56 104.35 L154.80 104.49 L154.97 104.64 L155.11 104.78 L155.22 104.93 L155.32 105.08 L155.39 105.23 L155.44 105.38 L155.47 105.54 L155.49 105.70 L155.49 105.86 L155.47 106.02 L155.42 106.19 L155.36 106.37 L155.27 106.55 L155.15 106.75 L154.98 106.95 L154.49 107.24 L154.00 107.54 L153.83 107.76 L153.72 107.97 L153.65 108.18 L153.61 108.37 L153.59 108.57 L153.59 108.76 L153.62 108.94 L153.67 109.11 L153.73 109.28 L153.82 109.44 L153.93 109.60 L154.05 109.74 L154.21 109.88 L154.38 110.00 L154.60 110.11 L154.86 110.19 L155.43 110.14 L155.99 110.09 L156.26 110.15 L156.47 110.24 L156.65 110.33 L156.80 110.44 L156.94 110.55 L157.05 110.67 L157.15 110.80 L157.23 110.94 L157.29 111.09 L157.34 111.24 L157.37 111.40 L157.38 111.58 L157.38 111.76 L157.35 111.97 L157.30 112.19 L157.19 112.44 L156.82 112.86 L156.45 113.29 L156.35 113.56 L156.32 113.79 L156.31 114.01 L156.33 114.21 L156.37 114.40 L156.44 114.58 L156.52 114.74 L156.61 114.90 L156.73 115.04 L156.86 115.16 L157.01 115.28 L157.18 115.38 L157.36 115.46 L157.57 115.52 L157.81 115.56 L158.09 115.55 L158.61 115.33 L159.13 115.10 L159.40 115.08 L159.63 115.10 L159.83 115.14 L160.01 115.19 L160.17 115.26 L160.32 115.34 L160.45 115.43 L160.57 115.53 L160.67 115.65 L160.76 115.78 L160.84 115.93 L160.91 116.09 L160.96 116.27 L161.00 116.47 L161.02 116.70 L161.00 116.97 L160.77 117.49 L160.55 118.01 L160.54 118.29 L160.58 118.53 L160.64 118.74 L160.72 118.92 L160.82 119.09 L160.94 119.24 L161.06 119.37 L161.20 119.49 L161.36 119.58 L161.52 119.66 L161.70 119.73 L161.89 119.77 L162.09 119.79 L162.31 119.78 L162.54 119.75 L162.81 119.65 L163.24 119.28 L163.66 118.91 L163.91 118.80 L164.13 118.75 L164.34 118.72 L164.52 118.72 L164.70 118.73 L164.86 118.76 L165.01 118.81 L165.16 118.87 L165.30 118.95 L165.43 119.05 L165.55 119.16 L165.66 119.30 L165.77 119.45 L165.86 119.63 L165.95 119.84 L166.01 120.11 L165.96 120.67 L165.91 121.24 L165.99 121.50 L166.10 121.72 L166.22 121.89 L166.36 122.05 L166.50 122.17 L166.66 122.28 L166.82 122.37 L166.99 122.43 L167.16 122.48 L167.34 122.51 L167.53 122.51 L167.73 122.49 L167.92 122.45 L168.13 122.38 L168.34 122.27 L168.56 122.10 L168.86 121.61 L169.15 121.12 L169.35 120.95 L169.55 120.83 L169.73 120.74 L169.91 120.68 L170.08 120.63 L170.24 120.61 L170.40 120.61 L170.56 120.63 L170.72 120.66 L170.87 120.71 L171.02 120.78 L171.17 120.88 L171.32 120.99 L171.46 121.13 L171.61 121.30 L171.75 121.54 L171.87 122.09 L172.01 122.64 L172.17 122.87 L172.33 123.04 L172.51 123.17 L172.68 123.28 L172.86 123.35 L173.04 123.41 L173.22 123.44 L173.40 123.45 L173.58 123.44 L173.76 123.41 L173.94 123.35 L174.12 123.28 L174.29 123.17 L174.47 123.04 L174.63 122.87 L174.79 122.64 L174.93 122.09 L175.05 121.54 L175.19 121.30 L175.34 121.13 L175.48 120.99 L175.63 120.88 L175.78 120.78 L175.93 120.71 L176.08 120.66 L176.24 120.63 L176.40 120.61 L176.56 120.61 L176.72 120.63 L176.89 120.68 L177.07 120.74 L177.25 120.83 L177.45 120.95 L177.65 121.12 L177.94 121.61 L178.24 122.10 L178.46 122.27 L178.67 122.38 L178.88 122.45 L179.07 122.49 L179.27 122.51 L179.46 122.51 L179.64 122.48 L179.81 122.43 L179.98 122.37 L180.14 122.28 L180.30 122.17 L180.44 122.05 L180.58 121.89 L180.70 121.72 L180.81 121.50 L180.89 121.24 L180.84 120.67 L180.79 120.11 L180.85 119.84 L180.94 119.63 L181.03 119.45 L181.14 119.30 L181.25 119.16 L181.37 119.05 L181.50 118.95 L181.64 118.87 L181.79 118.81 L181.94 118.76 L182.10 118.73 L182.28 118.72 L182.46 118.72 L182.67 118.75 L182.89 118.80 L183.14 118.91 L183.56 119.28 L183.99 119.65 L184.26 119.75 L184.49 119.78 L184.71 119.79 L184.91 119.77 L185.10 119.73 L185.28 119.66 L185.44 119.58 L185.60 119.49 L185.74 119.37 L185.86 119.24 L185.98 119.09 L186.08 118.92 L186.16 118.74 L186.22 118.53 L186.26 118.29 L186.25 118.01 L186.03 117.49 L185.80 116.97 L185.78 116.70 L185.80 116.47 L185.84 116.27 L185.89 116.09 L185.96 115.93 L186.04 115.78 L186.13 115.65 L186.23 115.53 L186.35 115.43 L186.48 115.34 L186.63 115.26 L186.79 115.19 L186.97 115.14 L187.17 115.10 L187.40 115.08 L187.67 115.10 L188.19 115.33 L188.71 115.55 L188.99 115.56 L189.23 115.52 L189.44 115.46 L189.62 115.38 L189.79 115.28 L189.94 115.16 L190.07 115.04 L190.19 114.90 L190.28 114.74 L190.36 114.58 L190.43 114.40 L190.47 114.21 L190.49 114.01 L190.48 113.79 L190.45 113.56 L190.35 113.29 L189.98 112.86 L189.61 112.44 L189.50 112.19 L189.45 111.97 L189.42 111.76 L189.42 111.58 L189.43 111.40 L189.46 111.24 L189.51 111.09 L189.57 110.94 L189.65 110.80 L189.75 110.67 L189.86 110.55 L190.00 110.44 L190.15 110.33 L190.33 110.24 L190.54 110.15 L190.81 110.09 L191.37 110.14 L191.94 110.19 L192.20 110.11 L192.42 110.00 L192.59 109.88 L192.75 109.74 L192.87 109.60 L192.98 109.44 L193.07 109.28 L193.13 109.11 L193.18 108.94 L193.21 108.76 L193.21 108.57 L193.19 108.37 L193.15 108.18 L193.08 107.97 L192.97 107.76 L192.80 107.54 L192.31 107.24 L191.82 106.95 L191.65 106.75 L191.53 106.55 L191.44 106.37 L191.38 106.19 L191.33 106.02 L191.31 105.86 L191.31 105.70 L191.33 105.54 L191.36 105.38 L191.41 105.23 L191.48 105.08 L191.58 104.93 L191.69 104.78 L191.83 104.64 L192.00 104.49 L192.24 104.35 L192.79 104.23 L193.34 104.09 L193.57 103.93 L193.74 103.77 L193.87 103.59 L193.98 103.42 L194.05 103.24 L194.11 103.06 L194.14 102.88Z" fill="#167ccb"/>
<g fill="#fff" stroke="#fff" stroke-width="0.45">
<text x="158.6" y="108.6" font-family="Liberation Sans, sans-serif" font-weight="bold" font-style="italic" font-size="17.2" textLength="21.8" lengthAdjust="spacingAndGlyphs">AS</text>
<path d="M176.6 96.4 H187.8 L187.3 99 H176.1Z"/>
<path d="M179.6 101.3 H187.8 L187.3 103.8 H179.1Z"/>
<path d="M179.6 106.1 H187.8 L187.3 108.6 H179.1Z"/>
<text x="160.2" y="113.9" font-family="Liberation Sans, sans-serif" font-weight="bold" font-size="3.5" textLength="26" lengthAdjust="spacingAndGlyphs" opacity="0.8" stroke="none">CERTIFIED</text>
</g>
<circle cx="188.9" cy="117.9" r="0.6" fill="#3a6ea8"/>
</svg>
</body></html>
